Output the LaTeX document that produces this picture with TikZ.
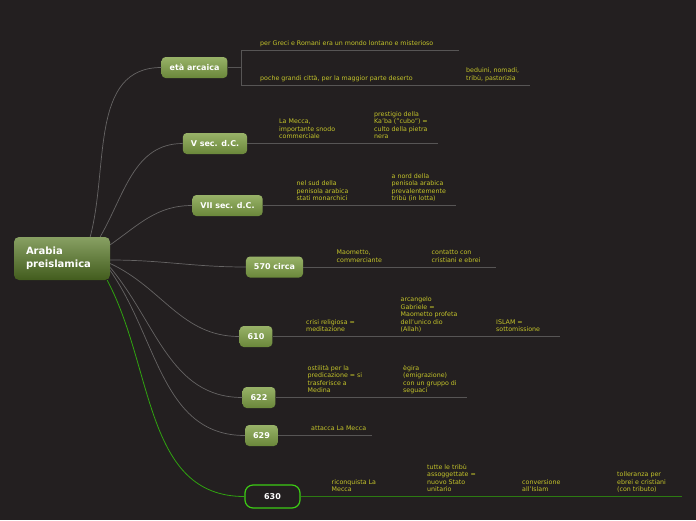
\documentclass[tikz,border=0pt]{standalone}
\usepackage{fontspec}
\setmainfont{DejaVu Sans}
\usepackage{xcolor}
\usepackage{tikz}
\usetikzlibrary{positioning}

\definecolor{bgdark}{HTML}{231F20}
\definecolor{leafyellow}{HTML}{C4C42A}
\definecolor{branchgray}{HTML}{666464}
\definecolor{subgray}{HTML}{575555}
\definecolor{greentop}{HTML}{98B268}
\definecolor{greenbot}{HTML}{6A873A}
\definecolor{roottop}{HTML}{88A063}
\definecolor{rootbot}{HTML}{425C1D}
\definecolor{hotgreen}{HTML}{3CCC14}
\definecolor{darkgreen}{HTML}{2C7A12}

\begin{document}
\begin{tikzpicture}[
  x=1pt, y=-1pt,
  root/.style={rounded corners=5pt, top color=roottop, bottom color=rootbot, minimum width=96pt, minimum height=43pt, text width=72pt, inner sep=0pt, align=left, text=white, font=\fontsize{10}{13.3}\selectfont\bfseries},
  topic/.style={rounded corners=4pt, top color=greentop, bottom color=greenbot, minimum height=21pt, inner xsep=8pt, text=white, font=\fontsize{8}{9}\selectfont\bfseries},
  hot/.style={rounded corners=8pt, fill=bgdark, draw=hotgreen, line width=1.2pt, minimum width=55pt, minimum height=23pt, text=white, font=\fontsize{8}{9}\selectfont\bfseries},
  leaf/.style={anchor=south west, inner sep=0pt, align=left, text depth=1.6pt, text=leafyellow, font=\fontsize{6.3}{7.5}\selectfont},
  branch/.style={draw=branchgray, line width=0.7pt},
  hotbranch/.style={draw=hotgreen!80!black, line width=0.8pt},
  sub/.style={draw=subgray, line width=0.9pt},
  hotsub/.style={draw=darkgreen, line width=1.4pt}
]

% background
\fill[bgdark] (0,0) rectangle (696,520);

% main topics
\node[root] (root) at (62,258.5) {Arabia\\preislamica};
\node[topic] (arcaica) at (194.5,67.5) {età arcaica};
\node[topic] (vsec) at (215,143.5) {V sec. d.C.};
\node[topic] (viisec) at (227.5,205.5) {VII sec. d.C.};
\node[topic] (c570) at (274.5,267) {570 circa};
\node[topic] (y610) at (256,336.5) {610};
\node[topic] (y622) at (259,397.5) {622};
\node[topic] (y629) at (261.5,435.5) {629};
\node[hot] (y630) at (272.5,496.5) {630};

% branches from the root
\draw[branch] ([xshift=-20pt]root.north east) to[out=75, in=180] (arcaica.west);
\draw[branch] ([xshift=-10pt]root.north east) to[out=60, in=180] (vsec.west);
\draw[branch] ([yshift=-8pt]root.north east) to[out=35, in=180] (viisec.west);
\draw[branch] ([yshift=-1.5pt]root.east) to[out=0, in=180] (c570.west);
\draw[branch] ([yshift=-5pt]root.east) to[out=-25, in=180] (y610.west);
\draw[branch] ([yshift=-9pt]root.east) to[out=-50, in=180] (y622.west);
\draw[branch] ([yshift=-12pt]root.east) to[out=-55, in=180] (y629.west);
\draw[hotbranch] ([xshift=-3pt]root.south east) to[out=-62, in=180] (y630.west);

% eta arcaica
\coordinate (arcfork) at (241,67.5);
\coordinate (arctop) at (241,50);
\coordinate (arcbot) at (241,85);
\coordinate (arctopend) at (459,50);
\coordinate (arcbotend) at (530,85);
\draw[sub] (arcaica.east) -- (arcfork);
\draw[sub] (arctopend) -- (arctop) -- (arcbot) -- (arcbotend);
\node[leaf] (greci) at (260,47) {per Greci e Romani era un mondo lontano e misterioso};
\node[leaf] (citta) at (260,82) {poche grandi città, per la maggior parte deserto};
\node[leaf] (beduini) at (466,82) {beduini, nomadi,\\tribù, pastorizia};

% V sec.
\coordinate (vsecend) at (438,143.5);
\draw[sub] (vsec.east) -- (vsecend);
\node[leaf] (mecca) at (279,140.5) {La Mecca,\\importante snodo\\commerciale};
\node[leaf] (kaba) at (374,140.5) {prestigio della\\Ka'ba ("cubo") =\\culto della pietra\\nera};

% VII sec.
\coordinate (viisecend) at (456,205.5);
\draw[sub] (viisec.east) -- (viisecend);
\node[leaf] (sud) at (296.5,202.5) {nel sud della\\penisola arabica\\stati monarchici};
\node[leaf] (nord) at (391.5,202.5) {a nord della\\penisola arabica\\prevalentemente\\tribù (in lotta)};

% 570
\coordinate (c570end) at (496,267);
\draw[sub] (c570.east) -- (c570end);
\node[leaf] (commerciante) at (336.5,264) {Maometto,\\commerciante};
\node[leaf] (contatto) at (431.5,264) {contatto con\\cristiani e ebrei};

% 610
\coordinate (y610end) at (560,336.5);
\draw[sub] (y610.east) -- (y610end);
\node[leaf] (crisi) at (306,333.5) {crisi religiosa =\\meditazione};
\node[leaf] (gabriele) at (400.5,333.5) {arcangelo\\Gabriele =\\Maometto profeta\\dell'unico dio\\(Allah)};
\node[leaf] (islam) at (496,333.5) {ISLAM =\\sottomissione};

% 622
\coordinate (y622end) at (467,397.5);
\draw[sub] (y622.east) -- (y622end);
\node[leaf] (ostilita) at (307.5,394.5) {ostilità per la\\predicazione = si\\trasferisce a\\Medina};
\node[leaf] (egira) at (403,394.5) {ègira\\(emigrazione)\\con un gruppo di\\seguaci};

% 629
\coordinate (y629end) at (372,435.5);
\draw[sub] (y629.east) -- (y629end);
\node[leaf] (attacca) at (311,432.5) {attacca La Mecca};

% 630
\coordinate (y630end) at (682,496.5);
\draw[hotsub] (y630.east) -- (y630end);
\node[leaf] (riconquista) at (331.5,493.5) {riconquista La\\Mecca};
\node[leaf] (tribu) at (427,493.5) {tutte le tribù\\assoggettate =\\nuovo Stato\\unitario};
\node[leaf] (conversione) at (522,493.5) {conversione\\all'Islam};
\node[leaf] (tolleranza) at (617,493.5) {tolleranza per\\ebrei e cristiani\\(con tributo)};

\end{tikzpicture}
\end{document}
